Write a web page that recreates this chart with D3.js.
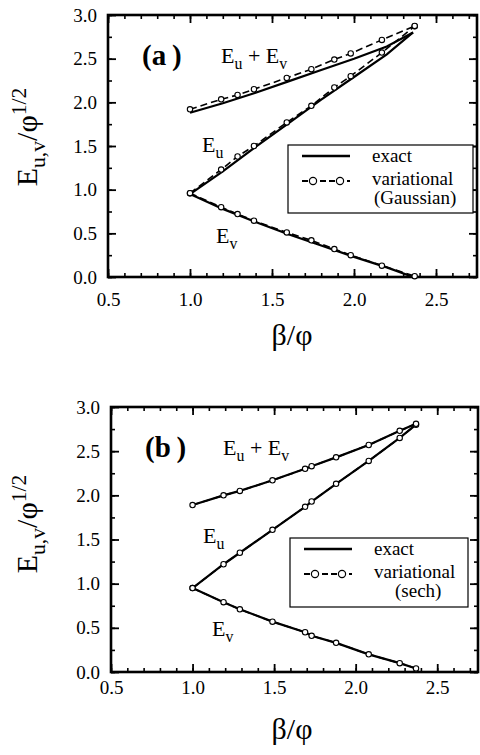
<!DOCTYPE html>
<html>
<head>
<meta charset="utf-8">
<script src="https://cdn.jsdelivr.net/npm/d3@7"></script>
<style>
  body { margin: 0; background: #fff; }
  svg text { font-family: "Liberation Serif", serif; fill: #000; }
</style>
</head>
<body>
<script>
// tick values shared by both panels
var xMajor = [0.5, 1.0, 1.5, 2.0, 2.5];
var yMajor = [0.0, 0.5, 1.0, 1.5, 2.0, 2.5, 3.0];
var xMinor = d3.range(5, 28).map(d => d / 10);
var yMinor = d3.range(0, 13).map(d => d / 4);

// panel (a): exact solution
var aExactX   = [1.0, 1.2, 1.4, 1.6, 1.8, 2.0, 2.2, 2.36];
var aExactEu  = [0.95, 1.21, 1.49, 1.76, 2.03, 2.29, 2.55, 2.80];
var aExactEv  = [0.95, 0.78, 0.63, 0.49, 0.36, 0.23, 0.11, 0.0];
var aExactSum = [1.88, 1.99, 2.11, 2.24, 2.37, 2.50, 2.64, 2.80];
// panel (a): variational (Gaussian)
var aVarX   = [1.0, 1.19, 1.29, 1.39, 1.59, 1.74, 1.88, 1.98, 2.17, 2.37];
var aVarEu  = [0.96, 1.23, 1.38, 1.50, 1.77, 1.96, 2.17, 2.30, 2.57, 2.87];
var aVarEv  = [0.96, 0.80, 0.72, 0.645, 0.51, 0.42, 0.32, 0.25, 0.13, 0.01];
var aVarSum = [1.92, 2.035, 2.085, 2.15, 2.28, 2.38, 2.49, 2.56, 2.715, 2.875];

// panel (b): exact and variational (sech) coincide
var bX   = [1.0, 1.19, 1.29, 1.49, 1.69, 1.73, 1.88, 2.08, 2.27, 2.37];
var bEu  = [0.95, 1.22, 1.35, 1.61, 1.87, 1.93, 2.13, 2.39, 2.65, 2.80];
var bEv  = [0.95, 0.79, 0.71, 0.57, 0.45, 0.41, 0.33, 0.20, 0.10, 0.04];
var bSum = [1.89, 2.00, 2.05, 2.17, 2.30, 2.33, 2.43, 2.57, 2.73, 2.81];

var serif = '"Liberation Serif", serif';

var svg = d3.select("body").append("svg")
  .attr("width", 480)
  .attr("height", 755);

function zip(xs, ys) {
  return xs.map((x, i) => [x, ys[i]]);
}

// text with sub/superscripts: parts = [[str, "n"|"sub"|"sup"], ...]
function richText(g, x, y, parts, size, attrs) {
  var t = g.append("text").attr("x", x).attr("y", y).attr("font-size", size);
  for (var k in attrs) t.attr(k, attrs[k]);
  var shift = 0;
  parts.forEach(function(p) {
    var target = p[1] == "sub" ? size * 0.28 : p[1] == "sup" ? -size * 0.38 : 0;
    t.append("tspan")
      .attr("dy", target - shift)
      .attr("font-size", p[1] == "n" ? size : size * 0.72)
      .text(p[0]);
    shift = target;
  });
  return t;
}

function drawPanel(cfg) {
  var g = svg.append("g");

  var x = d3.scaleLinear().domain([0.5, 2.75]).range([cfg.left, cfg.right]);
  var y = d3.scaleLinear().domain([0, 3]).range([cfg.bottom, cfg.top]);
  var w = cfg.right - cfg.left, h = cfg.bottom - cfg.top;

  // inward ticks on all four sides
  var axes = [
    [d3.axisBottom(x), "translate(0," + cfg.bottom + ")", xMajor, xMinor],
    [d3.axisTop(x), "translate(0," + cfg.top + ")", xMajor, xMinor],
    [d3.axisLeft(y), "translate(" + cfg.left + ",0)", yMajor, yMinor],
    [d3.axisRight(y), "translate(" + cfg.right + ",0)", yMajor, yMinor]
  ];
  axes.forEach(function(a, i) {
    g.append("g").attr("transform", a[1])
      .call(a[0].tickValues(a[3]).tickSize(-4).tickFormat(""))
      .call(s => s.select(".domain").remove())
      .selectAll("line").attr("stroke-width", 1.6);
    var major = g.append("g").attr("transform", a[1])
      .call(a[0].tickValues(a[2]).tickSize(-8)
        .tickPadding(i == 0 ? cfg.xPad : 11)
        .tickFormat(i == 0 || i == 2 ? d3.format(".1f") : ""))
      .call(s => s.select(".domain").remove())
      .attr("font-family", serif);
    major.selectAll("line").attr("stroke-width", 1.8);
    major.selectAll("text")
      .attr("font-size", 19)
      .attr("fill", "#000");
  });

  // frame
  g.append("rect")
    .attr("x", cfg.left).attr("y", cfg.top)
    .attr("width", w).attr("height", h)
    .attr("fill", "none").attr("stroke", "#000").attr("stroke-width", 2.6);

  var line = d3.line().x(d => x(d[0])).y(d => y(d[1]));

  // exact curves
  cfg.exact.forEach(function(ys) {
    g.append("path").datum(zip(cfg.exactX, ys))
      .attr("d", line).attr("fill", "none")
      .attr("stroke", "#000").attr("stroke-width", 2.2);
  });

  // variational curves
  cfg.vari.forEach(function(ys) {
    var pts = zip(cfg.varX, ys);
    g.append("path").datum(pts)
      .attr("d", line).attr("fill", "none")
      .attr("stroke", "#000").attr("stroke-width", 1.6)
      .attr("stroke-dasharray", cfg.dash);
    g.selectAll(null).data(pts).enter().append("circle")
      .attr("cx", d => x(d[0])).attr("cy", d => y(d[1]))
      .attr("r", 2.7)
      .attr("fill", "#fff").attr("stroke", "#000").attr("stroke-width", 1.1);
  });

  // panel letter
  g.append("text")
    .attr("x", cfg.left + 34).attr("y", cfg.top + 50)
    .attr("font-size", 29).attr("font-weight", "bold")
    .text(cfg.letter);

  // curve labels
  richText(g, cfg.sumLab[0], cfg.sumLab[1], [["E", "n"], ["u", "sub"], [" + E", "n"], ["v", "sub"]], 22);
  richText(g, cfg.euLab[0], cfg.euLab[1], [["E", "n"], ["u", "sub"]], 22);
  richText(g, cfg.evLab[0], cfg.evLab[1], [["E", "n"], ["v", "sub"]], 22);

  // legend
  var L = cfg.legend;
  g.append("rect")
    .attr("x", L.x).attr("y", L.y).attr("width", L.w).attr("height", L.h)
    .attr("fill", "#fff").attr("stroke", "#000").attr("stroke-width", 1.2);
  g.append("line")
    .attr("x1", L.x + 14).attr("x2", L.x + 62)
    .attr("y1", L.y + 11).attr("y2", L.y + 11)
    .attr("stroke", "#000").attr("stroke-width", 2.6);
  g.append("line")
    .attr("x1", L.x + 14).attr("x2", L.x + 62)
    .attr("y1", L.y + 36).attr("y2", L.y + 36)
    .attr("stroke", "#000").attr("stroke-width", 2)
    .attr("stroke-dasharray", "6,3");
  [L.x + 25, L.x + 52].forEach(function(cx) {
    g.append("circle").attr("cx", cx).attr("cy", L.y + 36).attr("r", 3.6)
      .attr("fill", "#fff").attr("stroke", "#000").attr("stroke-width", 1.2);
  });
  g.append("text").attr("x", L.x + 84).attr("y", L.y + 17).attr("font-size", 19).text("exact");
  g.append("text").attr("x", L.x + 84).attr("y", L.y + 40).attr("font-size", 19).text("variational");
  g.append("text").attr("x", L.x + L.subX).attr("y", L.y + 59).attr("font-size", 19).text(L.sub);

  // axis titles
  richText(g, 0, 0, [["E", "n"], ["u,v", "sub"], ["/\u03c6", "n"], ["1/2", "sup"]], 30,
    { "text-anchor": "middle", "transform": "translate(37," + cfg.yTitle + ") rotate(-90)" });
  g.append("text")
    .attr("x", 292).attr("y", cfg.xTitle)
    .attr("text-anchor", "middle").attr("font-size", 30)
    .text("\u03b2/\u03c6");
}

drawPanel({
  left: 108, right: 477, top: 15, bottom: 277, xPad: 16,
  letter: "(a\u2009)",
  exactX: aExactX, exact: [aExactEu, aExactEv, aExactSum],
  varX: aVarX, vari: [aVarEu, aVarEv, aVarSum], dash: "7,4",
  sumLab: [221, 63], euLab: [202, 152], evLab: [216, 243],
  legend: { x: 288, y: 145, w: 185, h: 68, sub: "(Gaussian)", subX: 86 },
  yTitle: 137, xTitle: 345
});

drawPanel({
  left: 111, right: 478, top: 407, bottom: 672, xPad: 9,
  letter: "(b\u2009)",
  exactX: bX, exact: [bEu, bEv, bSum],
  varX: bX, vari: [bEu, bEv, bSum], dash: "7,4",
  sumLab: [223, 455], euLab: [203, 543], evLab: [212, 636],
  legend: { x: 290, y: 538, w: 178, h: 69, sub: "(sech)", subX: 105 },
  yTitle: 524, xTitle: 739
});
</script>
</body>
</html>
